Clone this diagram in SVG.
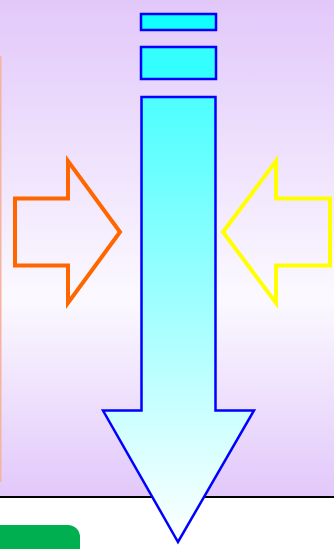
<svg xmlns="http://www.w3.org/2000/svg" width="334" height="549" viewBox="0 0 334 549">
  <defs>
    <linearGradient id="bg" x1="0" y1="0" x2="0" y2="1">
      <stop offset="0" stop-color="#e2c8fa"/>
      <stop offset="0.6" stop-color="#fbf9ff"/>
      <stop offset="1" stop-color="#e2c8fa"/>
    </linearGradient>
    <linearGradient id="arrowFill" x1="0" y1="96" x2="0" y2="543" gradientUnits="userSpaceOnUse">
      <stop offset="0" stop-color="#4dffff"/>
      <stop offset="1" stop-color="#ffffff"/>
    </linearGradient>
    <style>
      .blue { stroke: #0000ff; stroke-width: 2.5; }
      .outline { fill: none; stroke-width: 4; stroke-linejoin: miter; }
    </style>
  </defs>
  <rect x="0" y="0" width="334" height="497" fill="url(#bg)"/>
  <rect x="0" y="497" width="334" height="52" fill="#ffffff"/>
  <line x1="0" y1="497" x2="334" y2="497" stroke="#000000" stroke-width="2"/>
  <rect x="0" y="56" width="1.5" height="426" fill="#f6b4a0"/>
  <path d="M0 549 V525 H68 A12 12 0 0 1 80 537 V549 Z" fill="#00b050"/>

  <g id="rect-top">
    <rect class="blue" x="141" y="14" width="75" height="16" fill="#11ffff"/>
  </g>
  <g id="rect-mid">
    <rect class="blue" x="141" y="47" width="75" height="32" fill="#33ffff"/>
  </g>
  <g id="main-arrow">
    <path class="blue" d="M141.5 97 H215.5 V410.5 H254 L178 542 L103 410.5 H141.5 Z" fill="url(#arrowFill)"/>
  </g>
  <g id="left-arrow">
    <path class="outline" stroke="#ff6600" d="M15 198.5 H68 V161 L120 232 L68 303 V265.5 H15 Z"/>
  </g>
  <g id="right-arrow">
    <path class="outline" stroke="#ffff00" d="M330 198.5 H276 V161 L223 232 L276 303 V265.5 H330 Z"/>
  </g>
  <g id="connectors"></g>
</svg>
